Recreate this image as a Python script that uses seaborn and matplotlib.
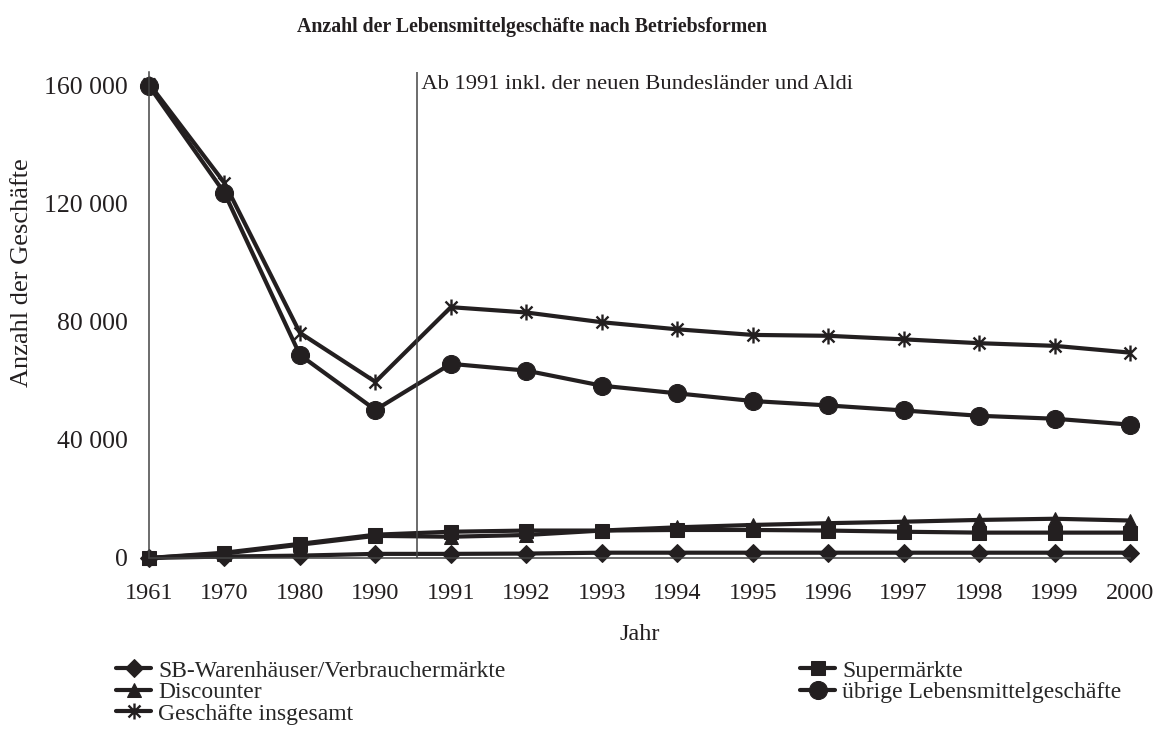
import matplotlib
matplotlib.use("Agg")
import matplotlib.pyplot as plt
from matplotlib.path import Path
from matplotlib.ticker import FuncFormatter, FixedLocator
import seaborn as sns
import pandas as pd

years = ["1961", "1970", "1980", "1990", "1991", "1992", "1993", "1994",
         "1995", "1996", "1997", "1998", "1999", "2000"]
sb_warenhaeuser = [0, 500, 800, 1400, 1400, 1500, 1800, 1800, 1800, 1800, 1800, 1800, 1800, 1800]
supermaerkte = [0, 1800, 4800, 7900, 8900, 9300, 9300, 9500, 9500, 9300, 8900, 8600, 8600, 8600]
discounter = [0, 1500, 4500, 7500, 7200, 7800, 9300, 10400, 11200, 11800, 12300, 12900, 13300, 12700]
uebrige = [160000, 123700, 68800, 50200, 65800, 63500, 58400, 55800, 53200, 51700, 50000, 48200, 47200, 45200]
insgesamt = [160800, 127100, 76300, 59700, 85000, 83200, 79900, 77500, 75600, 75300, 74100, 72800, 71900, 69600]

labels = ["SB-Warenhäuser/Verbrauchermärkte", "Supermärkte", "Discounter",
          "übrige Lebensmittelgeschäfte", "Geschäfte insgesamt"]
series = [sb_warenhaeuser, supermaerkte, discounter, uebrige, insgesamt]
yticks = [0, 40000, 80000, 120000, 160000]
title = "Anzahl der Lebensmittelgeschäfte nach Betriebsformen"
note = "Ab 1991 inkl. der neuen Bundesländer und Aldi"

sns.set_style("white")
plt.rcParams["font.family"] = ["Liberation Serif", "DejaVu Serif"]

# asterisk marker: vertical bar + X
star = Path([(0, -1), (0, 1), (-0.75, -0.75), (0.75, 0.75), (-0.75, 0.75), (0.75, -0.75)],
            [Path.MOVETO, Path.LINETO, Path.MOVETO, Path.LINETO, Path.MOVETO, Path.LINETO])

styles = [
    dict(marker="D", markersize=9),
    dict(marker="s", markersize=10),
    dict(marker="^", markersize=10.5),
    dict(marker="o", markersize=13),
    dict(marker=star, markersize=11.5, markeredgewidth=1.7),
]

col = "#231f20"
fig = plt.figure(figsize=(11.74, 7.45), dpi=100)
ax = fig.add_axes([149 / 1174, 1 - 558 / 745, (1130 - 149) / 1174, (558 - 72) / 745])

for lab, vals, st in zip(labels, series, styles):
    df = pd.DataFrame({"idx": range(len(years)), "value": vals})
    sns.lineplot(data=df, x="idx", y="value", ax=ax, color=col, linewidth=3.0,
                 markeredgecolor=col, markerfacecolor=col, clip_on=False, label=lab, **st)

h, l = ax.get_legend_handles_labels()
ax.get_legend().remove()

ax.axvline(3.55, color="#444444", linewidth=1.1)
ax.text(3.55, 0.975, " " + note, transform=ax.get_xaxis_transform(),
        ha="left", va="center", fontsize=16.2, color=col)

ax.set_xlim(0, 13)
ax.set_ylim(0, 164700)
ax.set_xticks(range(len(years)))
ax.set_xticklabels(years)
ax.xaxis.set_minor_locator(FixedLocator([i + 0.5 for i in range(len(years) - 1)]))
ax.set_yticks(yticks)
ax.yaxis.set_major_formatter(FuncFormatter(lambda v, p: f"{int(v):,}".replace(",", " ")))
ax.tick_params(axis="both", which="major", direction="out", length=6, width=1,
               color="#444444", labelsize=17.5, labelcolor=col, pad=9)
ax.tick_params(axis="y", which="major", labelsize=18.5)
ax.tick_params(axis="x", which="minor", direction="out", length=5, width=1, color="#444444")
ax.tick_params(axis="x", which="major", pad=12)

for s in ["top", "right"]:
    ax.spines[s].set_visible(False)
for s in ["left", "bottom"]:
    ax.spines[s].set_color("#444444")
    ax.spines[s].set_linewidth(1.1)

ax.set_xlabel("Jahr", fontsize=17.5, color=col, va="center")
ax.xaxis.set_label_coords(0.5, (558 - 635) / 486)
ax.set_ylabel("Anzahl der Geschäfte", fontsize=19, color=col, va="center", ha="center")
ax.yaxis.set_label_coords((22 - 149) / 981, (558 - 273) / 486)

fig.text(532 / 1174, 1 - 27 / 745, title, ha="center", va="center",
         fontsize=14.3, fontweight="bold", color=col)

leg_kw = dict(frameon=False, fontsize=17, handlelength=1.5, handletextpad=0.3,
              labelspacing=0.0, borderpad=0, borderaxespad=0, loc="upper left")
fig.legend([h[0], h[2], h[4]], [l[0], l[2], l[4]],
           bbox_to_anchor=(116 / 1174, 1 - 660 / 745), **leg_kw)
fig.legend([h[1], h[3]], [l[1], l[3]],
           bbox_to_anchor=(800 / 1174, 1 - 660 / 745), **leg_kw)

fig.savefig("out.png", dpi=100)
